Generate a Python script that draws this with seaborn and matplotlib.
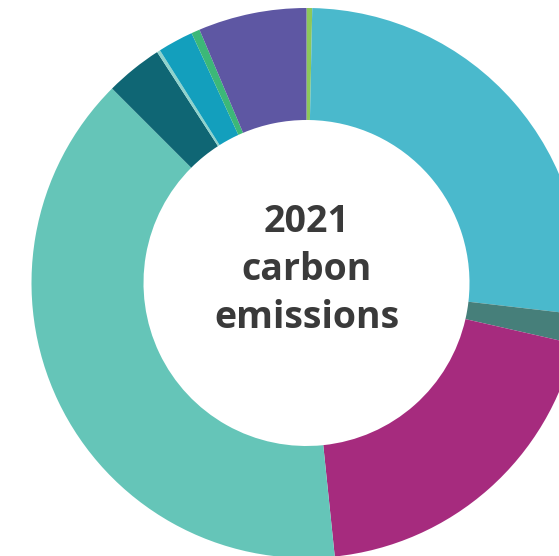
import matplotlib
matplotlib.use("Agg")
import matplotlib.pyplot as plt
import seaborn as sns

sns.set_theme(style="white")
plt.rcParams['font.family'] = ['Open Sans', 'DejaVu Sans']

# Data (shares of 2021 carbon emissions, in degrees of the ring)
categories = ["Sector 1", "Sector 2", "Sector 3", "Sector 4", "Sector 5",
              "Sector 6", "Sector 7", "Sector 8", "Sector 9", "Sector 10"]
values = [1.2, 95.4, 6.2, 71.3, 140.9, 12.1, 0.7, 7.5, 1.8, 22.9]
colors = ["#8dc85a", "#4ab9cc", "#467f7a", "#a62b7e", "#65c5b8",
          "#0f6674", "#8fd3cc", "#139fbd", "#3cb878", "#5e57a3"]
title_lines = ["2021", "carbon", "emissions"]

W, H = 559, 556
fig = plt.figure(figsize=(W / 100, H / 100), dpi=100)
ax = fig.add_axes([0, 0, 1, 1])

cx, cy, R = 306.5, 283.0, 275.0
ax.pie(values, colors=colors, startangle=90, counterclock=False, radius=1.0,
       wedgeprops=dict(width=1 - 163.0 / 275.0, linewidth=0))
ax.set_xlim((0 - cx) / R, (W - cx) / R)
ax.set_ylim((cy - H) / R, (cy - 0) / R)
ax.set_aspect('equal')
ax.axis('off')

ys = [222, 270, 318]
for line, yp in zip(title_lines, ys):
    ax.text((306.5 - cx) / R, (cy - yp) / R, line, ha='center', va='center',
            fontsize=27, fontweight='bold', color='#3a3a3a')

fig.savefig("out.png", dpi=100)
